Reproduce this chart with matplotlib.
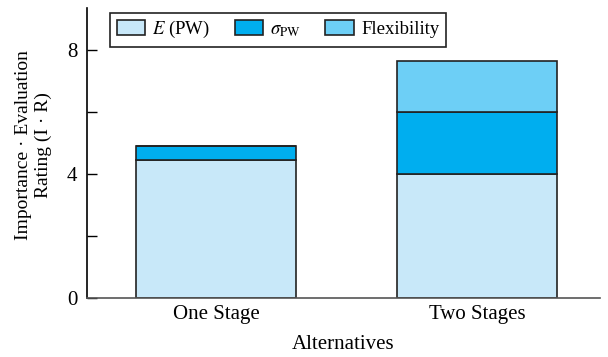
import numpy as np
import matplotlib
matplotlib.use("Agg")
import matplotlib.pyplot as plt

plt.rcParams['font.family'] = ['Liberation Serif', 'DejaVu Serif']
plt.rcParams['mathtext.fontset'] = 'stix'

alternatives = ['One Stage', 'Two Stages']
e_pw = [4.45, 4.0]
sigma_pw = [0.45, 2.0]
flexibility = [0.0, 1.65]

series_labels = ['$E$ (PW)', r'$\sigma_{\mathrm{PW}}$', 'Flexibility']
colors = ['#c8e8f9', '#00aeef', '#6dcff6']

fig = plt.figure(figsize=(6.08, 3.57), dpi=100)
ax = fig.add_axes([0.143, 0.165, 0.844, 0.813])

x = np.arange(len(alternatives))
width = 0.613
bottom = np.zeros(len(alternatives))
for vals, lab, col in zip([e_pw, sigma_pw, flexibility], series_labels, colors):
    vals = np.array(vals)
    ax.bar(x, vals, width, bottom=bottom, color=col, edgecolor='#222222',
           linewidth=1.2, label=lab)
    bottom += vals

ax.set_xlim(-0.494, 1.471)
ax.set_ylim(0, 9.35)
ax.set_xticks(x)
ax.set_xticklabels(alternatives)
ax.set_yticks([0, 4, 8])
ax.set_yticks([2, 6], minor=True)
ax.tick_params(axis='y', which='both', direction='in', length=7, width=1,
               labelsize=15, pad=7)
ax.tick_params(axis='x', length=0, labelsize=15, pad=5)
ax.spines['top'].set_visible(False)
ax.spines['right'].set_visible(False)
ax.spines['left'].set_linewidth(1.2)
ax.spines['bottom'].set_color('#555555')
ax.spines['bottom'].set_linewidth(1.2)

ax.set_xlabel('Alternatives', fontsize=15, labelpad=8)
ax.set_ylabel('Importance · Evaluation\nRating (I · R)', fontsize=14)
ax.yaxis.set_label_coords(-0.068, 0.528)

leg = ax.legend(loc='upper left', bbox_to_anchor=(0.045, 0.983), ncol=3, fontsize=13.5,
                fancybox=False, edgecolor='#222222', framealpha=1,
                handlelength=1.5, handleheight=0.85, columnspacing=1.3,
                handletextpad=0.4, borderpad=0.35, borderaxespad=0)
leg.get_frame().set_linewidth(1.2)

fig.savefig('out.png', dpi=100)
